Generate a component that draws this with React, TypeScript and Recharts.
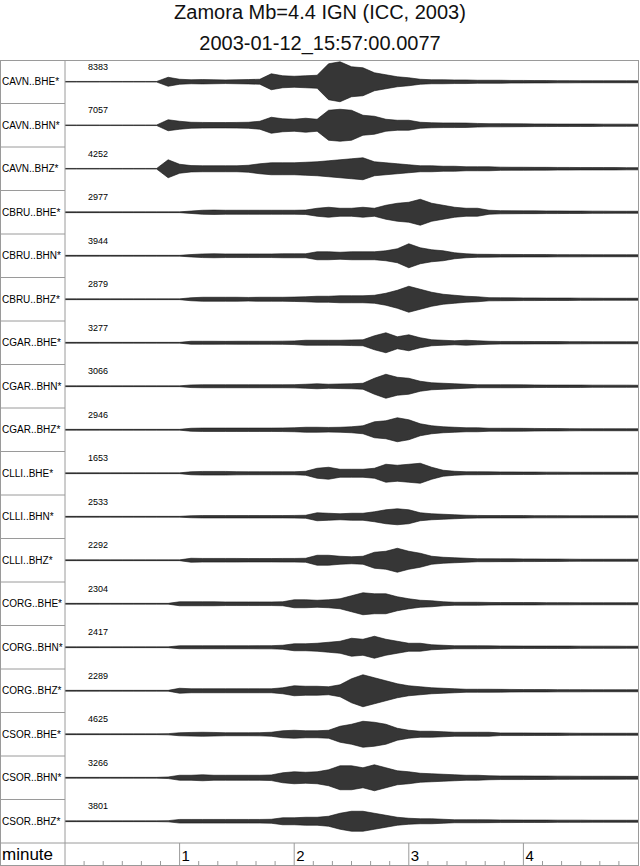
import React from "react";
import { ComposedChart, Area, XAxis, YAxis } from "recharts";

//========== Seismogram section: Zamora Mb=4.4 ===========

const titleLines = ["Zamora Mb=4.4 IGN (ICC, 2003)", "2003-01-12_15:57:00.0077"];

const stations = [
  "CAVN..BHE*", "CAVN..BHN*", "CAVN..BHZ*",
  "CBRU..BHE*", "CBRU..BHN*", "CBRU..BHZ*",
  "CGAR..BHE*", "CGAR..BHN*", "CGAR..BHZ*",
  "CLLI..BHE*", "CLLI..BHN*", "CLLI..BHZ*",
  "CORG..BHE*", "CORG..BHN*", "CORG..BHZ*",
  "CSOR..BHE*", "CSOR..BHN*", "CSOR..BHZ*",
];

const peakCounts = [
  8383, 7057, 4252, 2977, 3944, 2879, 3277, 3066, 2946,
  1653, 2533, 2292, 2304, 2417, 2289, 4625, 3266, 3801,
];

// sample times (minutes)
const minutes = [
  0, 0.1, 0.2, 0.3, 0.4, 0.5, 0.6, 0.7, 0.8, 0.9,
  1, 1.1, 1.2, 1.3, 1.4, 1.5, 1.6, 1.7, 1.8, 1.9,
  2, 2.1, 2.2, 2.3, 2.4, 2.5, 2.6, 2.7, 2.8, 2.9,
  3, 3.1, 3.2, 3.3, 3.4, 3.5, 3.6, 3.7, 3.8, 3.9,
  4, 4.1, 4.2, 4.3, 4.4, 4.5, 4.6, 4.7, 4.8, 4.9, 5,
];

// half-amplitude of each trace envelope (row height = 43.5 units)
const cavnBHE = [0.3, 0.3, 0.3, 0.3, 0.3, 0.3, 0.3, 0.3, 0.3, 4.5, 2.5, 2, 2.2, 2, 1.8, 2, 2.2, 2.5, 8, 6, 5.5, 6, 6.5, 18, 20, 15, 14, 9, 7, 5, 4, 2.5, 2, 2, 1.8, 1.8, 1.5, 1.5, 1.5, 1.3, 1.3, 1.2, 1.2, 1.1, 1.1, 1, 1, 1, 1, 1, 1];
const cavnBHN = [0.3, 0.3, 0.3, 0.3, 0.3, 0.3, 0.3, 0.3, 0.3, 5.5, 4, 3, 2.8, 2.7, 2.7, 2.8, 3, 4, 8, 6.5, 6, 7, 6, 15, 16, 15, 10, 9, 6, 5, 5, 3, 2.5, 2.3, 2.3, 2.2, 1.8, 1.6, 1.6, 1.5, 1.4, 1.3, 1.3, 1.2, 1.2, 1.2, 1.2, 1.1, 1.1, 1.1, 1];
const cavnBHZ = [0.3, 0.3, 0.3, 0.3, 0.3, 0.3, 0.3, 0.3, 0.3, 9, 4.5, 3.2, 3, 3, 3, 3, 3.5, 5, 6, 6, 6, 6.5, 7, 8, 9, 10, 11, 7, 6, 5, 4, 3, 3, 2.5, 2.5, 2, 2, 2, 1.6, 1.5, 1.5, 1.4, 1.4, 1.3, 1.3, 1.2, 1.2, 1.2, 1.2, 1.1, 1.1];
const cbruBHE = [0.4, 0.4, 0.4, 0.4, 0.4, 0.4, 0.4, 0.4, 0.4, 0.4, 0.4, 1.2, 2, 2.2, 2, 2, 2, 2, 2, 2, 2, 2.2, 4, 5, 4, 4, 5, 4, 7, 9, 10, 13, 9, 7, 5, 4, 4, 2, 1.6, 1.5, 1.4, 1.4, 1.3, 1.3, 1.2, 1.2, 1.1, 1.1, 1, 1, 1];
const cbruBHN = [0.4, 0.4, 0.4, 0.4, 0.4, 0.4, 0.4, 0.4, 0.4, 0.4, 0.4, 1.2, 1.8, 2, 1.8, 1.8, 1.8, 1.8, 1.8, 2, 2, 2, 4, 4, 3.5, 4, 4, 4, 5, 7, 12, 8, 6, 5, 3, 2, 1.5, 1.4, 1.3, 1.3, 1.2, 1.2, 1.2, 1.1, 1.1, 1.1, 1, 1, 1, 1, 1];
const cbruBHZ = [0.4, 0.4, 0.4, 0.4, 0.4, 0.4, 0.4, 0.4, 0.4, 0.4, 0.4, 1.5, 2, 2, 2, 2, 1.8, 2, 2, 2, 2.2, 2.5, 3, 3, 3.5, 3.5, 3.5, 4, 6, 9, 13, 10, 7, 5, 4, 3, 2.5, 1.6, 1.5, 1.4, 1.3, 1.3, 1.2, 1.2, 1.2, 1.1, 1.1, 1, 1, 1, 1];
const cgarBHE = [0.4, 0.4, 0.4, 0.4, 0.4, 0.4, 0.4, 0.4, 0.4, 0.4, 0.4, 1.5, 1.5, 1.5, 1.4, 1.5, 1.5, 1.5, 1.5, 1.6, 1.8, 2.5, 2.5, 2.5, 2.5, 2.8, 3, 7, 10, 6, 8, 5, 3, 2.5, 2, 2.5, 2, 1.5, 1.3, 1.3, 1.3, 1.2, 1.2, 1.2, 1.1, 1.1, 1, 1, 1, 1, 1];
const cgarBHN = [0.4, 0.4, 0.4, 0.4, 0.4, 0.4, 0.4, 0.4, 0.4, 0.4, 0.4, 1.3, 1.5, 1.5, 1.5, 1.5, 1.5, 1.5, 1.5, 1.5, 1.6, 2, 2.5, 2, 2.3, 2.5, 3, 8, 12, 9, 8, 5, 3.5, 3, 2.5, 2, 1.5, 1.5, 1.5, 1.5, 1.4, 1.3, 1.2, 1.2, 1.2, 1.2, 1.1, 1.1, 1.1, 1.1, 1];
const cgarBHZ = [0.4, 0.4, 0.4, 0.4, 0.4, 0.4, 0.4, 0.4, 0.4, 0.4, 0.4, 1.5, 1.7, 1.7, 1.7, 1.7, 1.7, 1.7, 1.7, 1.8, 2, 2.5, 2.5, 2.3, 2.5, 3, 4, 8, 9, 12, 10, 6, 4, 3, 2.5, 2, 2, 1.5, 1.5, 1.5, 1.4, 1.3, 1.2, 1.2, 1.1, 1, 1, 1, 1, 1, 1];
const clliBHE = [0.4, 0.4, 0.4, 0.4, 0.4, 0.4, 0.4, 0.4, 0.4, 0.4, 0.4, 1.5, 1.8, 1.8, 1.8, 1.6, 1.5, 1.5, 1.5, 1.5, 1.5, 2, 5, 6, 4, 4, 4, 5, 9, 8, 9, 10, 6, 3, 2, 1.5, 1.5, 1.4, 1.3, 1.3, 1.2, 1.2, 1.1, 1.1, 1, 1, 1, 1, 1, 1, 1];
const clliBHN = [0.4, 0.4, 0.4, 0.4, 0.4, 0.4, 0.4, 0.4, 0.4, 0.4, 0.4, 1, 1.2, 1.2, 1.2, 1.2, 1.2, 1.2, 1.2, 1.2, 1.3, 1.5, 4, 3.5, 3, 3.5, 3.5, 5, 7, 8, 7, 4, 3, 2.5, 2, 1.5, 1.3, 1.2, 1.2, 1.2, 1.2, 1.1, 1.1, 1.1, 1, 1, 1, 1, 1, 1, 1];
const clliBHZ = [0.4, 0.4, 0.4, 0.4, 0.4, 0.4, 0.4, 0.4, 0.4, 0.4, 0.4, 2, 1.8, 1.8, 1.8, 1.8, 1.7, 1.7, 1.7, 1.8, 1.8, 2, 5, 5, 4, 3.5, 4, 8, 9, 12, 9, 7, 4, 3, 2.5, 2, 1.5, 1.5, 1.4, 1.4, 1.3, 1.3, 1.2, 1.2, 1.1, 1, 1, 1, 1, 1, 1];
const corgBHE = [0.4, 0.4, 0.4, 0.4, 0.4, 0.4, 0.4, 0.4, 0.4, 0.4, 2, 2, 2, 2, 1.8, 1.8, 1.8, 1.8, 1.8, 2, 4, 4, 3.5, 4, 5, 8, 11, 10, 10, 7, 5, 3.5, 3, 2, 1.5, 1.5, 1.5, 1.3, 1.2, 1.2, 1.2, 1.2, 1.1, 1.1, 1.1, 1, 1, 1, 1, 1, 1];
const corgBHN = [0.4, 0.4, 0.4, 0.4, 0.4, 0.4, 0.4, 0.4, 0.4, 0.4, 1.5, 1.5, 1.5, 1.5, 1.5, 1.5, 1.5, 1.6, 1.6, 2, 3.5, 3.5, 4, 5, 6, 9, 8, 11, 8, 6, 4, 4, 2.5, 2, 1.5, 1.5, 1.5, 1.4, 1.3, 1.3, 1.2, 1.2, 1.2, 1.2, 1.2, 1.1, 1.1, 1.1, 1.1, 1, 1];
const corgBHZ = [0.4, 0.4, 0.4, 0.4, 0.4, 0.4, 0.4, 0.4, 0.4, 0.4, 2.5, 2, 2, 2, 2, 2, 2, 2, 2, 3, 5, 4.5, 4.5, 4, 6, 12, 16, 13, 10, 7, 5, 4, 3, 2.5, 2, 1.5, 1.5, 1.5, 1.4, 1.3, 1.2, 1.2, 1.2, 1.1, 1.1, 1.1, 1, 1, 1, 1, 1];
const csorBHE = [0.4, 0.4, 0.4, 0.4, 0.4, 0.4, 0.4, 0.4, 0.4, 0.6, 1.5, 1.8, 2, 1.8, 1.5, 1.5, 1.5, 1.6, 2, 3.5, 4, 3.5, 3.5, 4, 8, 10, 13, 12, 10, 6, 4, 3, 3, 2.5, 2, 2, 2, 2, 1.3, 1.3, 1.3, 1.2, 1.2, 1.2, 1.1, 1, 1, 1, 1, 1, 1];
const csorBHN = [0.4, 0.4, 0.4, 0.4, 0.4, 0.4, 0.4, 0.4, 0.4, 0.8, 2.5, 2.5, 3, 2.5, 2.5, 2.5, 2.5, 2.5, 2.8, 5, 6, 5.5, 6, 8, 12, 12, 10, 13, 10, 7, 6, 4.5, 4, 3.5, 3, 2.5, 2.5, 2, 1.8, 1.8, 1.8, 1.7, 1.7, 1.6, 1.6, 1.5, 1.5, 1.5, 1.5, 1.4, 1.4];
const csorBHZ = [0.4, 0.4, 0.4, 0.4, 0.4, 0.4, 0.4, 0.4, 0.4, 0.6, 1.8, 1.8, 1.8, 1.8, 1.8, 1.8, 1.8, 1.8, 2, 3.5, 3.5, 4, 4, 5, 8, 10, 10, 8, 6, 4, 3, 2.5, 2.5, 2, 1.5, 1.5, 1.5, 1.4, 1.3, 1.3, 1.2, 1.2, 1.2, 1.1, 1.1, 1.1, 1, 1, 1, 1, 1];

const traces = [
  cavnBHE, cavnBHN, cavnBHZ, cbruBHE, cbruBHN, cbruBHZ,
  cgarBHE, cgarBHN, cgarBHZ, clliBHE, clliBHN, clliBHZ,
  corgBHE, corgBHN, corgBHZ, csorBHE, csorBHN, csorBHZ,
];

// axis ticks every 10 s; labelled minutes
const tickSeconds = [
  0, 10, 20, 30, 40, 50, 60, 70, 80, 90, 100, 110, 120, 130, 140, 150,
  160, 170, 180, 190, 200, 210, 220, 230, 240, 250, 260, 270, 280, 290,
];
const minuteLabels = ["1", "2", "3", "4"];

//========== Layout ===========

const FONT = "'Liberation Sans', Arial, Helvetica, sans-serif";
const FRAME = "#9a9a9a";
const ROW_H = 43.5;
const N = stations.length;
const PLOT_TOP = 60;
const AXIS_TOP = PLOT_TOP + N * ROW_H; // 843
const AXIS_BOTTOM = 865;

const rowCenter = (i: number) => (N - i - 0.5) * ROW_H;

const chartData = minutes.map((t, k) => {
  const row: Record<string, number | number[]> = { t };
  traces.forEach((amp, i) => {
    row[`r${i}`] = [rowCenter(i) - amp[k], rowCenter(i) + amp[k]];
  });
  return row;
});

const StationTick = (props: any) => {
  const { y, payload } = props;
  const i = Math.round(N - 0.5 - payload.value / ROW_H);
  return (
    <g>
      <text x={2} y={y + 3.5} fontSize={10} fill="#000" fontFamily={FONT}>
        {stations[i]}
      </text>
      <text x={88} y={y - 12} fontSize={9} fill="#000" fontFamily={FONT}>
        {peakCounts[i]}
      </text>
      <line x1={0} x2={65} y1={y + ROW_H / 2} y2={y + ROW_H / 2} stroke={FRAME} strokeWidth={1} />
    </g>
  );
};

const MinuteTick = (props: any) => {
  const { x, payload } = props;
  const sec = Math.round(payload.value * 60);
  const major = sec % 60 === 0;
  if (major) {
    const label = sec === 0 ? "" : minuteLabels[sec / 60 - 1];
    return (
      <g>
        <line x1={x} x2={x} y1={AXIS_TOP} y2={AXIS_BOTTOM} stroke={FRAME} strokeWidth={1} />
        <text x={x + 2} y={AXIS_BOTTOM - 4} fontSize={15} fill="#000" fontFamily={FONT}>
          {label}
        </text>
      </g>
    );
  }
  return <line x1={x} x2={x} y1={AXIS_BOTTOM - 4} y2={AXIS_BOTTOM} stroke={FRAME} strokeWidth={1} />;
};

export default function App() {
  return (
    <div
      style={{
        position: "absolute",
        left: 0,
        top: 0,
        width: 640,
        height: 866,
        background: "#fff",
        fontFamily: FONT,
      }}
    >
      {/* ====== Title ====== */}
      {titleLines.map((line, i) => (
        <div
          key={line}
          style={{
            position: "absolute",
            left: 0,
            width: 640,
            top: 2 + i * 31,
            textAlign: "center",
            fontSize: 20,
            lineHeight: "20px",
            color: "#111",
          }}
        >
          {line}
        </div>
      ))}

      {/* ====== Frame ====== */}
      <div
        style={{
          position: "absolute",
          left: 0,
          top: PLOT_TOP,
          width: 639,
          height: AXIS_BOTTOM - PLOT_TOP + 1,
          boxSizing: "border-box",
          border: `1px solid ${FRAME}`,
        }}
      />
      <div
        style={{
          position: "absolute",
          left: 2,
          top: AXIS_TOP + 2,
          fontSize: 17,
          lineHeight: "20px",
          color: "#000",
        }}
      >
        minute
      </div>

      {/* ====== Traces ====== */}
      <div style={{ position: "absolute", left: 0, top: 0 }}>
        <ComposedChart
          width={640}
          height={866}
          data={chartData}
          margin={{ top: PLOT_TOP, right: 2, bottom: 1, left: 0 }}
        >
          <XAxis
            dataKey="t"
            type="number"
            domain={[0, 5]}
            ticks={tickSeconds.map((s) => s / 60)}
            interval={0}
            height={22}
            tickSize={0}
            tickLine={false}
            axisLine={{ stroke: FRAME }}
            tick={<MinuteTick />}
          />
          <YAxis
            type="number"
            domain={[0, N * ROW_H]}
            ticks={stations.map((_, i) => rowCenter(i))}
            interval={0}
            width={65}
            tickSize={0}
            tickLine={false}
            axisLine={{ stroke: FRAME }}
            tick={<StationTick />}
          />
          {traces.map((_, i) => (
            <Area
              key={stations[i]}
              dataKey={`r${i}`}
              type="linear"
              stroke="#111"
              strokeWidth={0.6}
              fill="#1a1a1a"
              fillOpacity={0.88}
              dot={false}
              activeDot={false}
              isAnimationActive={false}
            />
          ))}
        </ComposedChart>
      </div>
    </div>
  );
}
